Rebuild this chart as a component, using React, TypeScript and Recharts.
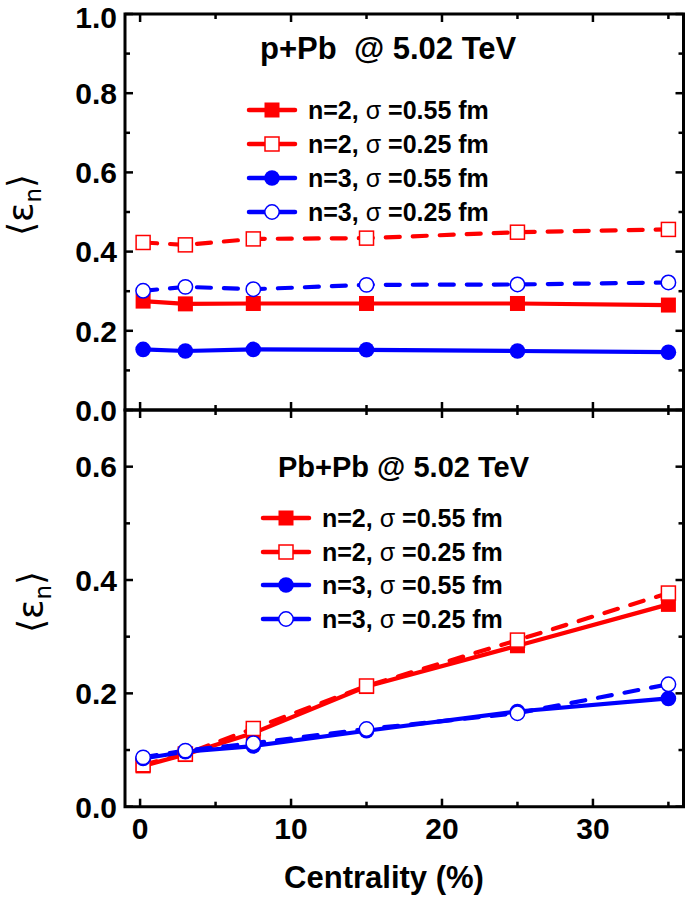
import React from 'react';
import { LineChart, Line, XAxis, YAxis, ReferenceArea } from 'recharts';

// ---- data ----
const centrality = [0.2, 3, 7.5, 15, 25, 35];

const pPb_n2_s055 = [0.275, 0.268, 0.269, 0.269, 0.269, 0.265];
const pPb_n2_s025 = [0.423, 0.417, 0.432, 0.434, 0.449, 0.456];
const pPb_n3_s055 = [0.153, 0.149, 0.153, 0.152, 0.149, 0.146];
const pPb_n3_s025 = [0.301, 0.311, 0.305, 0.316, 0.317, 0.322];

const PbPb_n2_s055 = [0.072, 0.092, 0.13, 0.212, 0.284, 0.357];
const PbPb_n2_s025 = [0.074, 0.093, 0.138, 0.213, 0.294, 0.377];
const PbPb_n3_s055 = [0.085, 0.097, 0.107, 0.134, 0.168, 0.191];
const PbPb_n3_s025 = [0.087, 0.099, 0.112, 0.137, 0.165, 0.216];

const xTicks = [0, 5, 10, 15, 20, 25, 30, 35];
const xLabelTicks = [0, 10, 20, 30];
const topYTicks = [0, 0.1, 0.2, 0.3, 0.4, 0.5, 0.6, 0.7, 0.8, 0.9, 1.0];
const topYLabelTicks = [0, 0.2, 0.4, 0.6, 0.8, 1.0];
const botYTicks = [0, 0.1, 0.2, 0.3, 0.4, 0.5, 0.6];
const botYLabelTicks = [0, 0.2, 0.4, 0.6];

const topTitle = 'p+Pb  @ 5.02 TeV';
const botTitle = 'Pb+Pb @ 5.02 TeV';
const xTitle = 'Centrality (%)';

const seriesDefs = [
  { key: 's1', n: '2', sigma: '0.55', color: '#FF0000', shape: 'square', filled: true, dashed: false },
  { key: 's2', n: '2', sigma: '0.25', color: '#FF0000', shape: 'square', filled: false, dashed: true },
  { key: 's3', n: '3', sigma: '0.55', color: '#0000FF', shape: 'circle', filled: true, dashed: false },
  { key: 's4', n: '3', sigma: '0.25', color: '#0000FF', shape: 'circle', filled: false, dashed: true },
];

const topData = centrality.map((x, i) => ({
  x, s1: pPb_n2_s055[i], s2: pPb_n2_s025[i], s3: pPb_n3_s055[i], s4: pPb_n3_s025[i],
}));
const botData = centrality.map((x, i) => ({
  x, s1: PbPb_n2_s055[i], s2: PbPb_n2_s025[i], s3: PbPb_n3_s055[i], s4: PbPb_n3_s025[i],
}));

const FONT = '"Liberation Sans", Arial, Helvetica, sans-serif';
const TICK_FS = 30;

function Marker({ cx, cy, def }: any) {
  if (cx == null || cy == null) return null;
  if (def.shape === 'square') {
    const s = def.filled ? 15 : 14;
    return (
      <rect x={cx - s / 2} y={cy - s / 2} width={s} height={s}
        fill={def.filled ? def.color : '#fff'} stroke={def.color}
        strokeWidth={def.filled ? 0 : 1.5} strokeDasharray="0" />
    );
  }
  return (
    <circle cx={cx} cy={cy} r={def.filled ? 7.8 : 7.2}
      fill={def.filled ? def.color : '#fff'} stroke={def.color}
      strokeWidth={def.filled ? 0 : 1.5} strokeDasharray="0" />
  );
}

const near = (arr: number[], v: number) => arr.some((a) => Math.abs(a - v) < 1e-6);

function makeXTick(dir: number, labels: boolean) {
  return (props: any) => {
    const { x, y, payload } = props;
    const v = payload.value;
    const major = near(xLabelTicks, v);
    const len = major ? 8 : 5;
    return (
      <g>
        <line x1={x} x2={x} y1={y} y2={y + dir * len} stroke="#000" strokeWidth={2.5} />
        {labels && major ? (
          <text x={x} y={y + 32} textAnchor="middle" fontFamily={FONT} fontWeight="bold" fontSize={TICK_FS} fill="#000">
            {String(v)}
          </text>
        ) : null}
      </g>
    );
  };
}

function makeYTick(dir: number, labelTicks: number[] | null, majorTicks: number[]) {
  return (props: any) => {
    const { x, y, payload } = props;
    const v = payload.value;
    const major = near(majorTicks, v);
    const len = major ? 8 : 5;
    const baseline = Math.max(y + TICK_FS * 0.36, 28);
    return (
      <g>
        <line x1={x} x2={x + dir * len} y1={y} y2={y} stroke="#000" strokeWidth={2.5} />
        {labelTicks && major ? (
          <text x={x - 8} y={baseline} textAnchor="end" fontFamily={FONT} fontWeight="bold" fontSize={TICK_FS} fill="#000">
            {v.toFixed(1)}
          </text>
        ) : null}
      </g>
    );
  };
}

function YTitle({ px, py }: { px: number; py: number }) {
  return (
    <text transform={`translate(${px},${py}) rotate(-90)`} textAnchor="middle" fontFamily='"DejaVu Sans", sans-serif' fontSize={36} fill="#000" dy={12}>
      <tspan>⟨ε</tspan>
      <tspan fontSize={23} dy={8}>n</tspan>
      <tspan dy={-8}>⟩</tspan>
    </text>
  );
}

function XTitle({ px, py }: { px: number; py: number }) {
  return (
    <text x={px} y={py} textAnchor="middle" fontFamily={FONT} fontWeight="bold" fontSize={31} fill="#000">{xTitle}</text>
  );
}

function renderLines() {
  return seriesDefs.map((def) => (
    <Line
      key={def.key}
      xAxisId="b"
      yAxisId="l"
      type="linear"
      dataKey={def.key}
      stroke={def.color}
      strokeWidth={4.2}
      strokeDasharray={def.dashed ? '14 13' : undefined}
      strokeLinecap="round"
      isAnimationActive={false}
      dot={(p: any) => <Marker key={`${def.key}-${p.index}`} cx={p.cx} cy={p.cy} def={def} />}
      activeDot={false}
    />
  ));
}

function axes(yMax: number, yTicks: number[], yLabelTicks: number[], bottomLabels: boolean, yTitle: any, xTitleEl: any) {
  return [
    <XAxis key="xb" xAxisId="b" dataKey="x" type="number" domain={[-1, 36]} ticks={xTicks} interval={0}
      orientation="bottom" height={1} tickSize={0} tickMargin={0} axisLine={false}
      tickLine={false} tick={makeXTick(-1, bottomLabels)} allowDataOverflow label={xTitleEl} />,
    <XAxis key="xt" xAxisId="t" dataKey="x" type="number" domain={[-1, 36]} ticks={xTicks} interval={0}
      orientation="top" height={1} tickSize={0} tickMargin={0} axisLine={false}
      tickLine={false} tick={makeXTick(1, false)} allowDataOverflow />,
    <YAxis key="yl" yAxisId="l" type="number" domain={[0, yMax]} ticks={yTicks} interval={0}
      orientation="left" width={125} tickSize={0} tickMargin={0} axisLine={false}
      tickLine={false} tick={makeYTick(1, yLabelTicks, yLabelTicks)} allowDataOverflow label={yTitle} />,
    <YAxis key="yr" yAxisId="r" type="number" domain={[0, yMax]} ticks={yTicks} interval={0}
      orientation="right" width={1} tickSize={0} tickMargin={0} axisLine={false}
      tickLine={false} tick={makeYTick(-1, null, yLabelTicks)} allowDataOverflow />,
    <ReferenceArea key="frame" xAxisId="b" yAxisId="l" x1={-1} x2={36} y1={0} y2={yMax}
      fill="none" fillOpacity={0} stroke="#000" strokeWidth={3} ifOverflow="visible" />,
  ];
}

function Legend({ x0, rows, textX }: { x0: number; rows: number[]; textX: number }) {
  return (
    <g>
      {seriesDefs.map((def, i) => {
        const cy = rows[i];
        return (
          <g key={def.key}>
            <line x1={x0} x2={x0 + 46} y1={cy} y2={cy} stroke={def.color} strokeWidth={4.5} strokeLinecap="round" />
            <Marker cx={x0 + 23} cy={cy} def={def} />
            <text x={textX} y={cy + 9} fontFamily={FONT} fontWeight="bold" fontSize={25} fill="#000">
              {`n=${def.n}, `}
              <tspan fontWeight="normal">σ</tspan>
              {` =${def.sigma} fm`}
            </text>
          </g>
        );
      })}
    </g>
  );
}

export default function App() {
  return (
    <div style={{ position: 'absolute', left: 0, top: 0, width: 685, height: 900, background: '#fff' }}>
      <div style={{ position: 'absolute', left: 0, top: 0 }}>
        <LineChart width={685} height={430} data={topData} margin={{ top: 13, right: 0.5, bottom: 19, left: 0 }}>
          {axes(1, topYTicks, topYLabelTicks, false, <YTitle px={21} py={205} />, undefined)}
          {renderLines()}
        </LineChart>
      </div>
      <div style={{ position: 'absolute', left: 0, top: 400 }}>
        <LineChart width={685} height={500} data={botData} margin={{ top: 9, right: 0.5, bottom: 92.3, left: 0 }}>
          {axes(0.7, botYTicks, botYLabelTicks, true, <YTitle px={31} py={202} />, <XTitle px={384} py={488} />)}
          {renderLines()}
        </LineChart>
      </div>
      <svg width={685} height={900} style={{ position: 'absolute', left: 0, top: 0, pointerEvents: 'none' }}>
        <text x={260} y={59} fontFamily={FONT} fontWeight="bold" fontSize={31} fill="#000" style={{ whiteSpace: 'pre' }}>{topTitle}</text>
        <Legend x0={249} rows={[110, 144, 178, 212]} textX={308} />
        <text x={278} y={477} fontFamily={FONT} fontWeight="bold" fontSize={29} fill="#000" style={{ whiteSpace: 'pre' }}>{botTitle}</text>
        <Legend x0={263} rows={[518, 552, 585, 619]} textX={322} />
      </svg>
    </div>
  );
}
